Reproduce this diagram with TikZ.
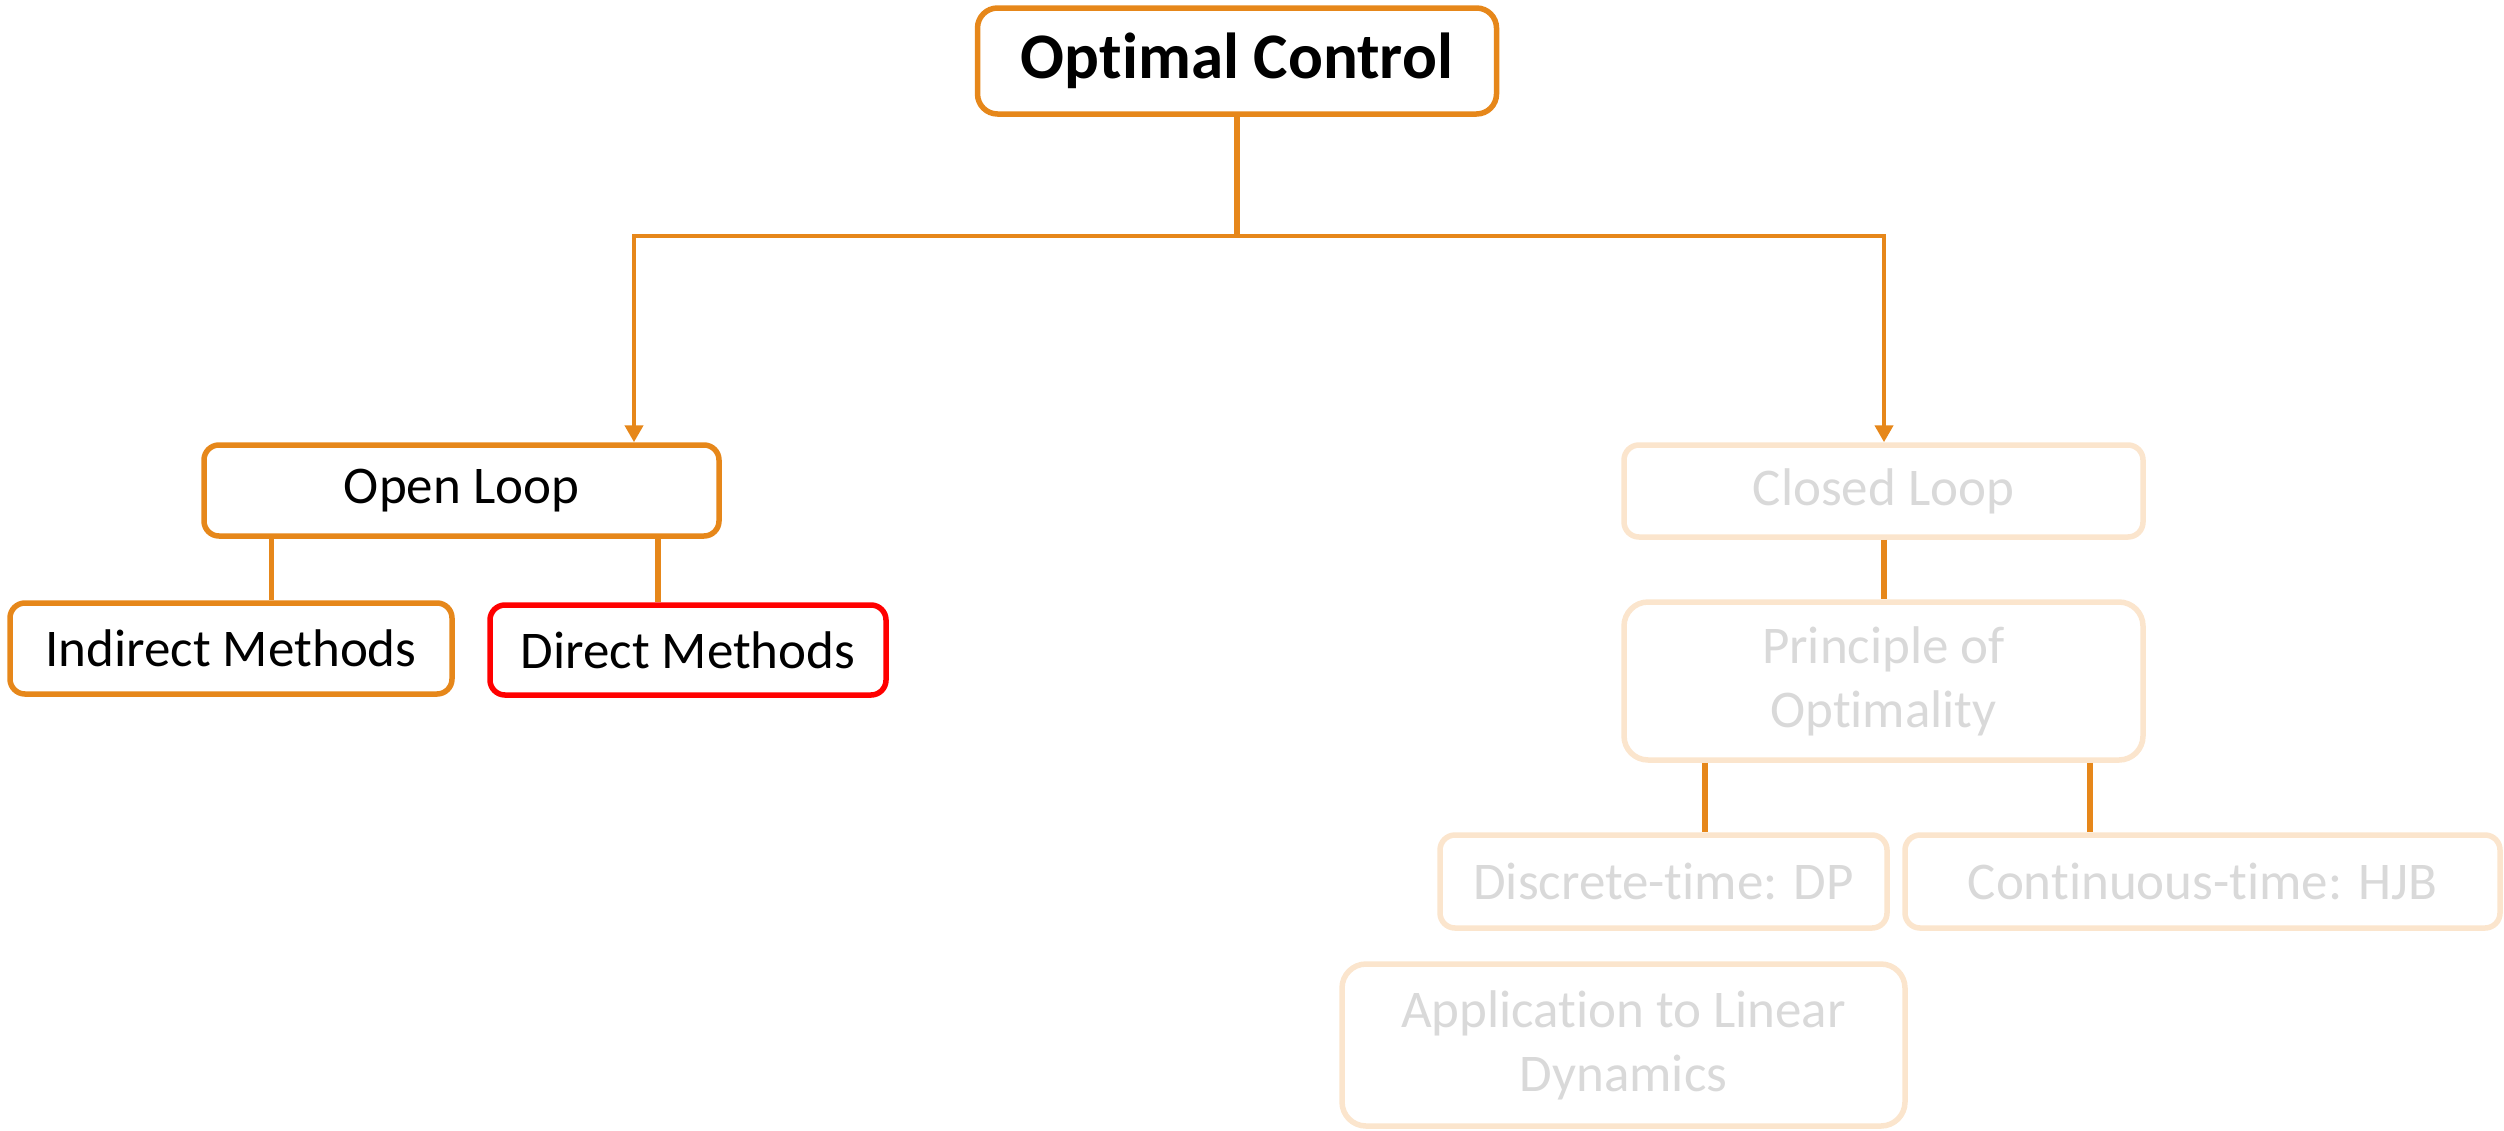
\documentclass[tikz,border=0pt]{standalone}
\usepackage{fontspec}
\setmainfont[Ligatures={NoCommon}]{Carlito}
\usetikzlibrary{arrows.meta}
\definecolor{ocorange}{RGB}{230,135,26}
\definecolor{fadeorange}{RGB}{251,229,205}
\definecolor{fadetext}{RGB}{217,217,217}
\definecolor{hired}{RGB}{255,0,0}
\tikzset{
  box/.style={draw=ocorange, line width=2.75pt, rounded corners=7.5pt, fill=white,
    align=center, inner sep=0pt, font=\fontsize{26.5}{32}\selectfont},
  fadebox/.style={box, draw=fadeorange, text=fadetext},
  link/.style={draw=ocorange, line width=2.6pt},
  arrowlink/.style={link, line width=2.2pt, -{Triangle[width=9pt,length=8.5pt]}},
}
\begin{document}
\begin{tikzpicture}[x=0.5pt, y=-0.5pt]
  \useasboundingbox (0,0) rectangle (2504,1130);

  % root
  \node[box, minimum width=259.5pt, minimum height=53pt, rounded corners=10pt,
        font=\fontsize{32.5}{39}\selectfont\bfseries] (oc) at (1237,61) {\raisebox{-1.5pt}{Optimal Control}};

  % open-loop branch
  \node[box, minimum width=257.5pt, minimum height=45.5pt] (ol) at (461.5,490.5) {\raisebox{-1pt}{Open Loop}};
  \node[box, minimum width=221pt, minimum height=45.5pt] (im) at (231,648.5) {\raisebox{-1pt}{Indirect Methods}};
  \node[box, draw=hired, minimum width=198pt, minimum height=45pt] (dm) at (688,650) {\raisebox{-1pt}{Direct Methods}};

  % closed-loop branch
  \node[fadebox, minimum width=259.5pt, minimum height=46pt] (cl) at (1883.5,491) {\raisebox{-1pt}{Closed Loop}};
  \node[fadebox, minimum width=259.5pt, minimum height=79pt, rounded corners=12pt] (po) at (1883.5,681) {\raisebox{-1.5pt}{Principle of}\\\raisebox{-1.5pt}{Optimality}};
  \node[fadebox, minimum width=223.5pt, minimum height=46.5pt] (dp) at (1663.5,881.5) {\raisebox{-1pt}{Discrete-time: DP}};
  \node[fadebox, minimum width=297.5pt, minimum height=46.5pt] (hjb) at (2202.5,881.5) {\raisebox{-1pt}{Continuous-time: HJB}};
  \node[fadebox, minimum width=281.5pt, minimum height=81pt, rounded corners=12pt] (app) at (1623.5,1045) {\raisebox{-1.5pt}{Application to Linear}\\\raisebox{-1.5pt}{Dynamics}};

  % connector positions
  \coordinate (split) at (1237,236);
  \coordinate (lx) at (634,0);
  \coordinate (rx) at (1884,0);
  \coordinate (ilx) at (271.5,0);
  \coordinate (dlx) at (658,0);
  \coordinate (plx) at (1705,0);
  \coordinate (prx) at (2090,0);

  % connectors
  \draw[link] (oc.south) -- (split);
  \draw[arrowlink] (split) -| (ol.north -| lx);
  \draw[arrowlink] (split) -| (cl.north -| rx);
  \draw[link] (ol.south -| ilx) -- (im.north -| ilx);
  \draw[link] (ol.south -| dlx) -- (dm.north -| dlx);
  \draw[link] (cl.south -| rx) -- (po.north -| rx);
  \draw[link] (po.south -| plx) -- (dp.north -| plx);
  \draw[link] (po.south -| prx) -- (hjb.north -| prx);
\end{tikzpicture}
\end{document}
